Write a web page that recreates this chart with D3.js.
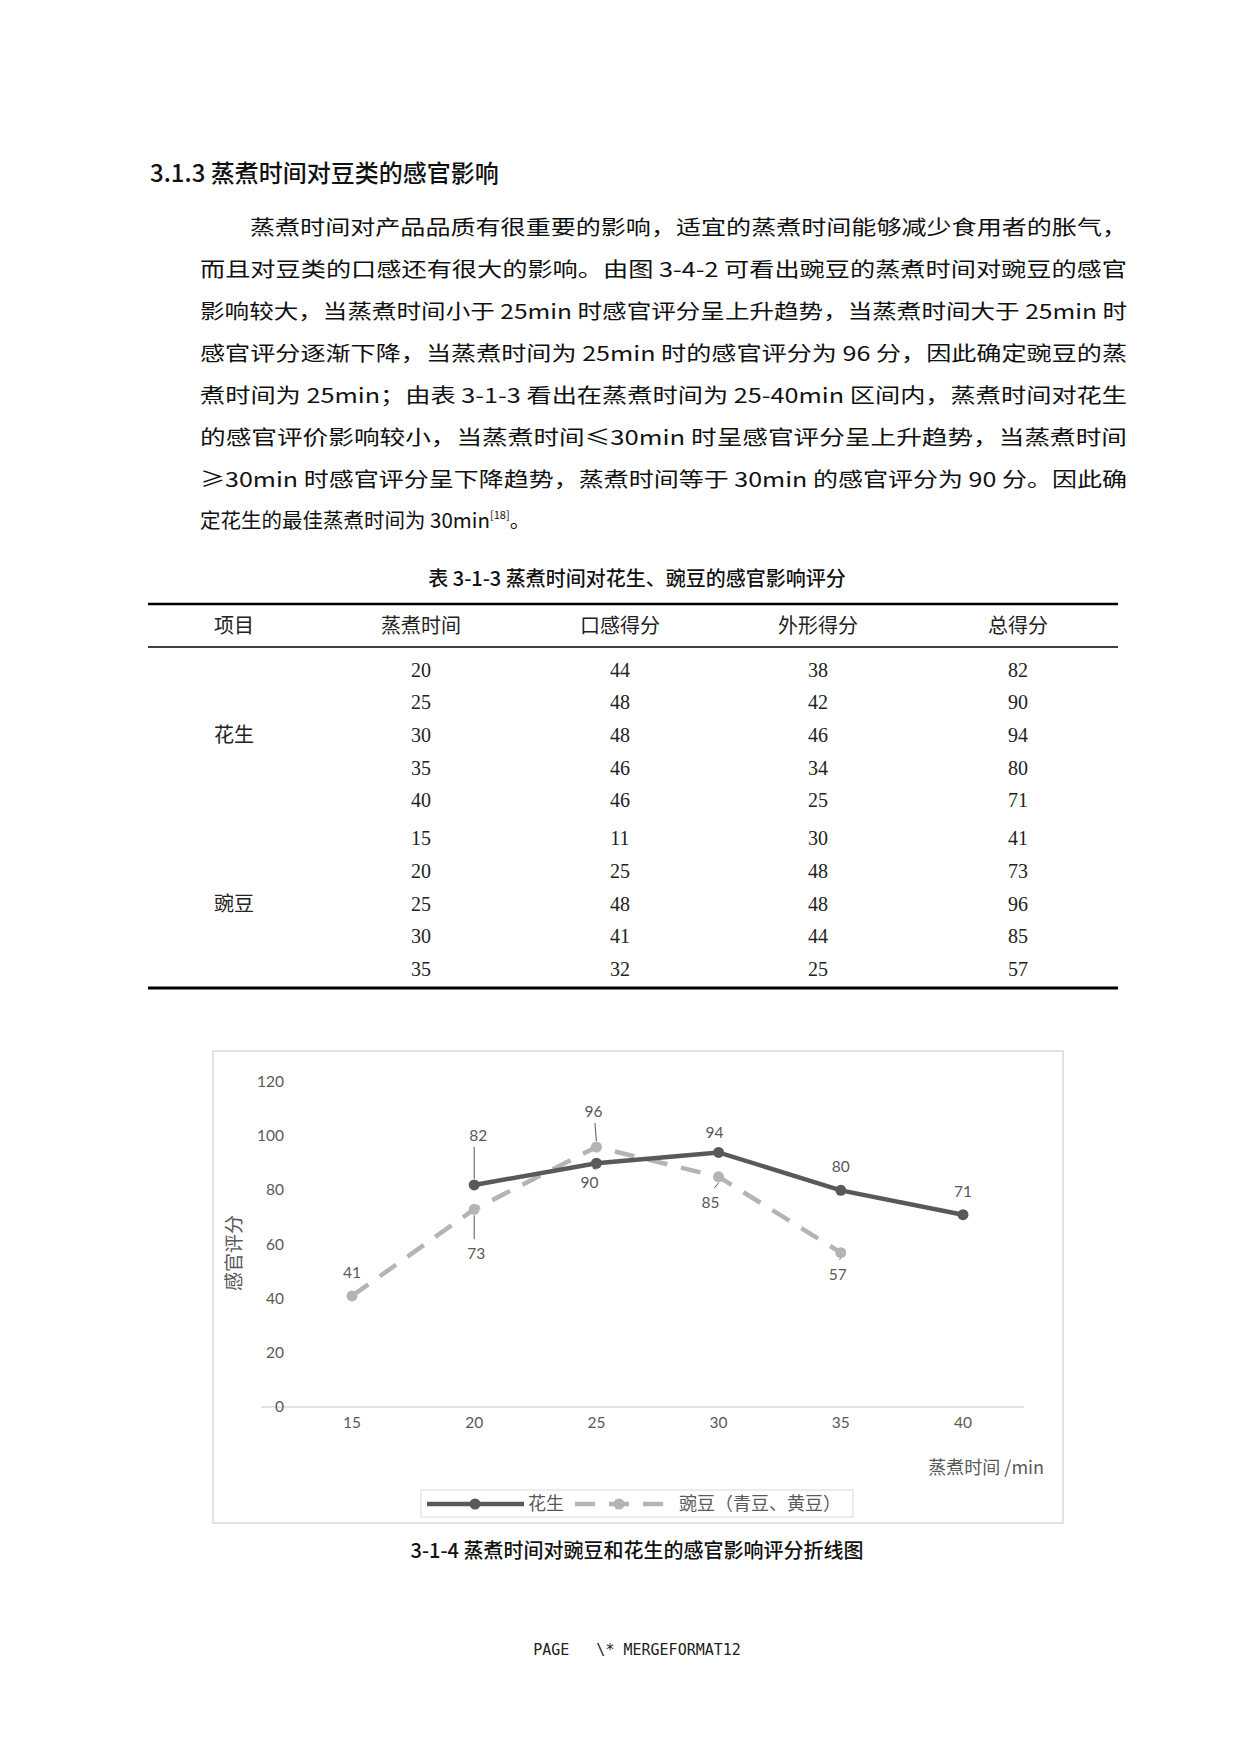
<!DOCTYPE html>
<html><head><meta charset="utf-8">
<script src="https://cdn.jsdelivr.net/npm/d3@7/dist/d3.min.js"></script>
<style>body{margin:0;background:#fff}svg{display:block}</style>
</head><body><svg id="s" width="1240" height="1754"></svg>
<script>
const peanutX=[20,25,30,35,40], peanutY=[82,90,94,80,71];
const peaX=[15,20,25,30,35], peaY=[41,73,96,85,57];
const xTicks=[15,20,25,30,35,40], yTicks=[0,20,40,60,80,100,120];
const tableHead=["项目","蒸煮时间","口感得分","外形得分","总得分"];
const peanutRows=[[20,44,38,82],[25,48,42,90],[30,48,46,94],[35,46,34,80],[40,46,25,71]];
const peaRows=[[15,11,30,41],[20,25,48,73],[25,48,48,96],[30,41,44,85],[35,32,25,57]];
const paragraph=["蒸煮时间对产品品质有很重要的影响，适宜的蒸煮时间能够减少食用者的胀气，",
"而且对豆类的口感还有很大的影响。由图 3-4-2 可看出豌豆的蒸煮时间对豌豆的感官",
"影响较大，当蒸煮时间小于 25min 时感官评分呈上升趋势，当蒸煮时间大于 25min 时",
"感官评分逐渐下降，当蒸煮时间为 25min 时的感官评分为 96 分，因此确定豌豆的蒸",
"煮时间为 25min；由表 3-1-3 看出在蒸煮时间为 25-40min 区间内，蒸煮时间对花生",
"的感官评价影响较小，当蒸煮时间≤30min 时呈感官评分呈上升趋势，当蒸煮时间",
"≥30min 时感官评分呈下降趋势，蒸煮时间等于 30min 的感官评分为 90 分。因此确",
"定花生的最佳蒸煮时间为 30min"];
const svg=d3.select("#s");
const CJK="'Noto Sans CJK SC',sans-serif";
const SER="'Liberation Serif','Noto Sans CJK SC',serif";
svg.append("text").attr("x",150).attr("y",182).attr("font-family",CJK).attr("font-size",24).attr("font-weight",500).attr("fill","#111").text("3.1.3 蒸煮时间对豆类的感官影响");
const ly=[235,277,319,361,403,445,487,528];
paragraph.forEach((t,i)=>{
  const el=svg.append("text").attr("x",i==0?250:200).attr("y",ly[i]).attr("font-family",CJK).attr("font-size",20.5).attr("fill","#111")
   .attr("textLength",i==7?null:(i==0?877:927)).attr("lengthAdjust","spacingAndGlyphs").text(t);
  if(i==7){el.append("tspan").attr("font-size",11).attr("dy",-9).text("[18]");el.append("tspan").attr("dy",9).text("。");}
});
svg.append("text").attr("x",637).attr("y",586).attr("text-anchor","middle").attr("font-family",CJK).attr("font-size",20).attr("font-weight",500).attr("fill","#111").text("表 3-1-3 蒸煮时间对花生、豌豆的感官影响评分");
[[604,2.5],[647,1.5],[988,3]].forEach(([y,w])=>svg.append("line").attr("x1",148).attr("x2",1118).attr("y1",y).attr("y2",y).attr("stroke","#000").attr("stroke-width",w));
const cx=[234,421,620,818,1018];
tableHead.forEach((h,i)=>svg.append("text").attr("x",cx[i]).attr("y",633).attr("text-anchor","middle").attr("font-family",CJK).attr("font-size",20).attr("fill","#222").text(h));
const r1=[670,702,735,768,800], r2=[838,871,904,936,969];
function rows(data,ys){data.forEach((r,j)=>r.forEach((v,i)=>svg.append("text").attr("x",cx[i+1]).attr("y",ys[j]+7).attr("text-anchor","middle").attr("font-family",SER).attr("font-size",20).attr("fill","#222").text(v)));}
rows(peanutRows,r1);rows(peaRows,r2);
svg.append("text").attr("x",234).attr("y",742).attr("text-anchor","middle").attr("font-family",CJK).attr("font-size",20).attr("fill","#222").text("花生");
svg.append("text").attr("x",234).attr("y",911).attr("text-anchor","middle").attr("font-family",CJK).attr("font-size",20).attr("fill","#222").text("豌豆");
// chart
svg.append("rect").attr("x",213).attr("y",1051).attr("width",850).attr("height",472).attr("fill","#fff").attr("stroke","#d9d9d9").attr("stroke-width",1.5);
const x=d3.scalePoint().domain(xTicks).range([352,963]);
const y=d3.scaleLinear().domain([0,120]).range([1407,1082]);
const LF="Lato,'Noto Sans CJK SC',sans-serif", G="#595959";
svg.append("line").attr("x1",261).attr("x2",1024).attr("y1",y(0)).attr("y2",y(0)).attr("stroke","#d9d9d9").attr("stroke-width",1.5);
yTicks.forEach(t=>svg.append("text").attr("x",284).attr("y",y(t)+5).attr("text-anchor","end").attr("font-family",LF).attr("font-size",15.5).attr("fill",G).text(t));
xTicks.forEach(t=>svg.append("text").attr("x",x(t)).attr("y",1428).attr("text-anchor","middle").attr("font-family",LF).attr("font-size",15.5).attr("fill",G).text(t));
svg.append("text").attr("transform","translate(241,1253) rotate(-90)").attr("text-anchor","middle").attr("font-family",CJK).attr("font-size",19).attr("fill",G).text("感官评分");
svg.append("text").attr("x",1044).attr("y",1474).attr("text-anchor","end").attr("font-family",CJK).attr("font-size",18).attr("fill",G).text("蒸煮时间 /min");
const line=d3.line().x(d=>x(d[0])).y(d=>y(d[1]));
const pe=peaX.map((v,i)=>[v,peaY[i]]), pn=peanutX.map((v,i)=>[v,peanutY[i]]);
svg.append("path").attr("d",line(pe)).attr("fill","none").attr("stroke","#b4b4b4").attr("stroke-width",4.5).attr("stroke-dasharray","20,14");
svg.selectAll(".pe").data(pe).join("circle").attr("cx",d=>x(d[0])).attr("cy",d=>y(d[1])).attr("r",5.5).attr("fill","#b4b4b4");
svg.append("path").attr("d",line(pn)).attr("fill","none").attr("stroke","#595959").attr("stroke-width",4.5);
svg.selectAll(".pn").data(pn).join("circle").attr("cx",d=>x(d[0])).attr("cy",d=>y(d[1])).attr("r",5.5).attr("fill","#595959");
const lab=[[20,82,4,-44,true],[25,90,-7,25,true],[30,94,-4,-14,false],[35,80,0,-18,false],[40,71,0,-18,false],
[15,41,0,-18,false],[20,73,2,50,true],[25,96,-3,-30,true],[30,85,-8,31,true],[35,57,-3,27,true]];
lab.forEach(([a,b,dx,dy,ld])=>{
  const px=x(a),py=y(b);
  if(ld){const ty=dy<0?py+dy+6:py+dy-20;svg.append("line").attr("x1",px+(dx<0?dx/2:0)).attr("x2",px).attr("y1",ty).attr("y2",dy<0?py-6:py+6).attr("stroke",G).attr("stroke-width",1);}
  svg.append("text").attr("x",px+dx).attr("y",py+dy).attr("text-anchor","middle").attr("font-family",LF).attr("font-size",15.5).attr("fill",G).text(b);
});
svg.append("rect").attr("x",421).attr("y",1490).attr("width",432).attr("height",27).attr("fill","#fff").attr("stroke","#d9d9d9");
svg.append("line").attr("x1",427).attr("x2",524).attr("y1",1504).attr("y2",1504).attr("stroke","#595959").attr("stroke-width",4.5);
svg.append("circle").attr("cx",475).attr("cy",1504).attr("r",5.5).attr("fill","#595959");
svg.append("text").attr("x",528).attr("y",1510).attr("font-family",CJK).attr("font-size",18).attr("fill",G).text("花生");
svg.append("line").attr("x1",575).attr("x2",663).attr("y1",1504).attr("y2",1504).attr("stroke","#b4b4b4").attr("stroke-width",4.5).attr("stroke-dasharray","20,14");
svg.append("circle").attr("cx",619).attr("cy",1504).attr("r",5.5).attr("fill","#b4b4b4");
svg.append("text").attr("x",679).attr("y",1510).attr("font-family",CJK).attr("font-size",18).attr("fill",G).text("豌豆（青豆、黄豆）");
svg.append("text").attr("x",637).attr("y",1558).attr("text-anchor","middle").attr("font-family",CJK).attr("font-size",20).attr("font-weight",500).attr("fill","#111").text("3-1-4 蒸煮时间对豌豆和花生的感官影响评分折线图");
svg.append("text").attr("x",637).attr("y",1655).attr("text-anchor","middle").attr("font-family","'DejaVu Sans Mono',monospace").attr("font-size",15).attr("fill","#222").style("white-space","pre").text("PAGE   \\* MERGEFORMAT12");
</script></body></html>
